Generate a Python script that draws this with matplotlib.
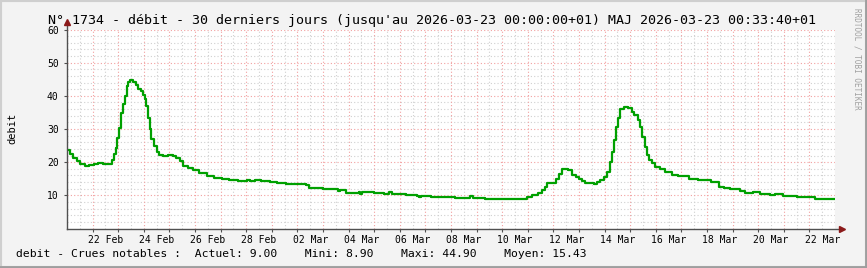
import numpy as np
import pandas as pd
import matplotlib
matplotlib.use("Agg")
import matplotlib.pyplot as plt
from matplotlib.patches import Rectangle

# --------------------------------------------------------------------
# data (hours since 2026-02-21 00:00, debit value held until next hour)
start = pd.Timestamp("2026-02-21 00:00")
hours = [0, 3, 6, 9, 12, 17, 21, 25, 29, 34, 38, 42, 44, 46, 47, 49, 50.5, 52.5, 54, 56,
         57.5, 59.5, 62, 64.5, 66.5, 69, 71, 73, 74.5, 76, 77.5, 79, 81.5, 84, 86, 90, 95, 99,
         102.5, 105.5, 109, 113, 118, 124, 131, 138, 145, 152, 160, 169, 172, 176, 182, 190,
         197, 205, 218, 224, 227, 240, 250, 254, 256, 262, 274, 275, 277, 288, 297, 302, 305,
         318, 328, 330, 332, 341, 364, 375, 378, 381, 392, 431, 436, 442, 445, 448, 450, 455,
         458, 461, 464, 467, 470, 473, 477, 480, 483, 486, 494, 497, 500, 503, 506, 509, 511,
         512.5, 514.5, 516.5, 518.5, 522, 526, 529.5, 532, 535, 537.5, 539, 541.5, 543.5,
         545.5, 548, 551, 556, 561, 567, 573, 583, 592, 604, 611, 616, 622, 631, 636, 643,
         650, 659, 664, 671, 684, 701, 720]
debit = [23.7, 22.4, 21.4, 20.3, 19.3, 18.8, 19.1, 19.4, 19.6, 19.5, 19.3, 20.8, 22.4, 24.4,
         27.4, 30.4, 34.9, 37.4, 39.9, 42.9, 44.1, 44.9, 44.1, 43.2, 42.2, 41.5, 40.2, 38.9,
         36.9, 33.4, 29.9, 26.9, 24.9, 23.1, 22.1, 21.9, 22.1, 21.9, 21.4, 20.3, 18.8, 18.3,
         17.6, 16.8, 15.8, 15.3, 15.0, 14.7, 14.3, 14.6, 14.3, 14.6, 14.3, 14.1, 13.8, 13.5,
         13.3, 13.0, 12.3, 12.0, 11.8, 11.3, 11.6, 10.8, 11.0, 10.5, 11.0, 10.7, 10.4, 11.0,
         10.5, 10.2, 9.8, 9.5, 9.8, 9.5, 9.2, 9.1, 9.8, 9.2, 8.9, 9.4, 10.0, 10.7, 11.5, 12.5,
         13.7, 13.8, 14.9, 16.5, 17.8, 18.0, 17.6, 16.2, 15.5, 14.9, 14.2, 13.7, 13.5, 14.0,
         14.7, 15.5, 17.1, 20.1, 23.1, 26.8, 30.7, 33.2, 35.9, 36.5, 36.4, 35.2, 34.3, 32.8,
         30.7, 27.7, 24.7, 22.1, 20.6, 19.6, 18.6, 17.8, 17.0, 16.2, 15.7, 15.0, 14.5, 14.0,
         12.5, 12.3, 11.8, 11.3, 10.8, 11.0, 10.4, 10.1, 10.4, 9.8, 9.5, 9.0, 9.0]
n_days = 30
label_days = pd.date_range("2026-02-22", "2026-03-22", freq="2D")
y_labels = [10, 20, 30, 40, 50, 60]

title = "N° 1734 - débit - 30 derniers jours (jusqu'au 2026-03-23 00:00:00+01) MAJ 2026-03-23 00:33:40+01"
legend = "debit - Crues notables :  Actuel: 9.00    Mini: 8.90    Maxi: 44.90    Moyen: 15.43"

# --------------------------------------------------------------------
# figure
mono = "DejaVu Sans Mono"
W, H = 867, 268
fig = plt.figure(figsize=(W / 100, H / 100), dpi=100, facecolor="#f3f3f3")

# rrdtool style shaded frame
fig.patches.append(Rectangle((0, 0), 1, 1, transform=fig.transFigure, fill=False,
                             edgecolor="#cfcfcf", lw=3, zorder=0))
fig.add_artist(plt.Line2D([0, 1], [1 / H, 1 / H], color="#9e9e9e", lw=2))
fig.add_artist(plt.Line2D([1 - 1 / W, 1 - 1 / W], [0, 1], color="#9e9e9e", lw=2))

x0, x1, ytop, ybot = 67, 835, 29.5, 228.5
ax = fig.add_axes([x0 / W, 1 - ybot / H, (x1 - x0) / W, (ybot - ytop) / H])
ax.set_facecolor("white")
ax.set_xlim(0, n_days * 24)
ax.set_ylim(0, 60)

# grid
red = "#f2a0a0"
grey = "#d0d0d0"
dots = (0, (1, 2))
for h in np.arange(12, n_days * 24, 24):
    ax.axvline(h, color=grey, lw=0.8, ls=dots, zorder=1)
for v in np.arange(2, 60, 2):
    if v % 10:
        ax.axhline(v, color=grey, lw=0.8, ls=dots, zorder=1)
for h in np.arange(24, n_days * 24 + 1, 24):
    ax.axvline(h, color=red, lw=0.8, ls=dots, zorder=1)
for v in y_labels:
    ax.axhline(v, color=red, lw=0.8, ls=dots, zorder=1)

ax.step(hours, debit, where="post", color="#00a000", lw=1.6, zorder=3)

# axes
for s in ["top", "right"]:
    ax.spines[s].set_visible(False)
ax.spines["left"].set_visible(False)
ax.spines["bottom"].set_visible(False)
axc = "#505050"
ax.plot([0, 0], [0, 1.03], transform=ax.transAxes, color=axc, lw=1, clip_on=False, zorder=4)
ax.plot([0, 1.006], [0, 0], transform=ax.transAxes, color=axc, lw=1, clip_on=False, zorder=4)
ax.plot([0], [1.04], transform=ax.transAxes, marker="^", ms=4.5, color="#8b1a1a",
        clip_on=False, zorder=5)
ax.plot([1.009], [0], transform=ax.transAxes, marker=">", ms=4.5, color="#8b1a1a",
        clip_on=False, zorder=5)

ax.set_yticks(y_labels)
ax.set_yticklabels([str(v) for v in y_labels], fontfamily=mono, fontsize=7)
ax.set_xticks(np.arange(24, n_days * 24, 24))
ax.set_xticklabels([])
ax.tick_params(axis="both", length=2, width=0.8, color=axc, pad=4)

for d in label_days:
    h = (d - start) / pd.Timedelta(hours=1) + 12
    ax.text(h, -0.035, d.strftime("%d %b"), transform=ax.get_xaxis_transform(),
            ha="center", va="top", fontfamily=mono, fontsize=7)

fig.text(12 / W, 1 - 128 / H, "debit", rotation=90, ha="center", va="center",
         fontfamily=mono, fontsize=7.5)
fig.text(432 / W, 1 - 24 / H, title, ha="center", va="baseline", fontfamily=mono, fontsize=9.6)
fig.text(16 / W, 1 - 257 / H, legend, ha="left", va="baseline", fontfamily=mono, fontsize=8.2)
fig.text(857 / W, 1 - 8 / H, "RRDTOOL / TOBI OETIKER", rotation=270, ha="center", va="top",
         fontfamily=mono, fontsize=5.5, color="#a0a0a0")

fig.savefig("out.png", dpi=100, facecolor=fig.get_facecolor())
